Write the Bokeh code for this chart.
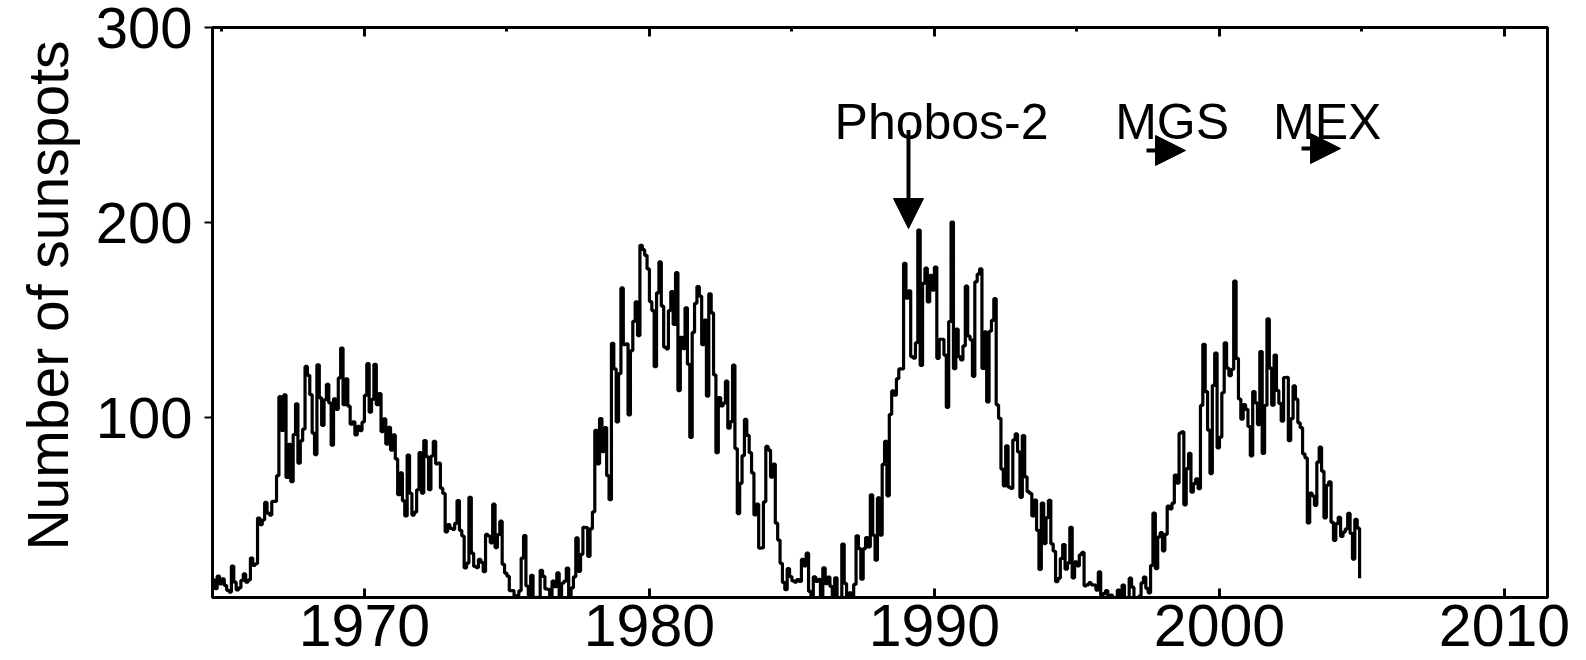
import numpy as np
from bokeh.plotting import figure
from bokeh.models import Range1d, LinearAxis, FixedTicker, Label, Arrow, NormalHead, Title
from bokeh.embed import file_html
from bokeh.resources import INLINE

# Monthly mean sunspot number, starting September 1964 (one value per month)
first_month = 1964 + 8 / 12

ssn_1964_1969 = [
    17.0, 12.5, 19.0, 15.0,
    17.5, 14.2, 11.7, 10.8, 24.1, 15.9, 11.9, 12.9, 16.8, 20.1, 15.8, 17.0,
    28.2, 24.4, 25.3, 48.7, 45.3, 47.7, 56.7, 51.2, 50.2, 57.2, 57.2, 70.4,
    110.9, 93.6, 111.8, 69.5, 86.5, 67.3, 91.5, 107.2, 76.8, 88.2, 94.3, 126.4,
    121.8, 111.9, 92.2, 81.2, 127.2, 110.3, 96.1, 109.3, 117.2, 107.7, 86.0, 109.8,
    104.4, 120.5, 135.8, 106.8, 120.0, 106.0, 96.8, 98.0, 91.3, 95.7, 93.5, 97.9,
]
ssn_1970s = [
    111.5, 127.8, 102.9, 109.5, 127.5, 106.8, 112.5, 93.0, 99.5, 86.6, 95.2, 83.5,
    91.3, 79.0, 60.7, 71.8, 57.5, 49.8, 81.0, 61.4, 50.2, 51.7, 63.2, 82.2,
    61.5, 88.4, 80.1, 63.2, 80.5, 88.0, 76.5, 76.8, 64.0, 61.3, 41.6, 45.3,
    43.4, 42.9, 46.0, 57.7, 42.4, 39.5, 23.1, 25.6, 59.3, 30.7, 23.9, 23.3,
    27.6, 26.0, 21.3, 40.3, 39.5, 36.0, 55.8, 33.6, 40.2, 47.1, 25.0, 20.5,
    18.9, 11.5, 11.5, 5.1, 9.0, 11.4, 28.2, 39.7, 13.9, 9.1, 19.4, 7.8,
    8.1, 4.3, 21.9, 18.8, 12.4, 12.2, 1.9, 16.4, 13.5, 20.6, 5.2, 15.3,
    16.4, 23.1, 8.7, 12.9, 18.6, 38.5, 21.4, 30.1, 44.0, 43.8, 29.1, 43.2,
    51.9, 93.6, 76.5, 99.7, 82.7, 95.1, 70.4, 58.1, 138.2, 125.1, 97.9, 122.7,
    166.6, 137.5, 138.0, 101.5, 134.4, 149.5, 159.4, 142.2, 188.4, 186.2, 183.3, 176.3,
]
ssn_1980s = [
    159.6, 155.0, 126.2, 164.1, 179.9, 157.3, 136.3, 135.4, 155.0, 164.7, 147.9, 174.4,
    114.0, 141.3, 135.5, 156.4, 127.5, 90.0, 143.8, 158.7, 167.3, 162.4, 137.5, 150.1,
    111.2, 163.6, 153.8, 122.0, 82.2, 110.4, 106.1, 107.6, 118.8, 94.7, 98.1, 127.0,
    84.3, 51.0, 66.5, 80.7, 99.2, 91.1, 82.2, 71.8, 50.3, 55.8, 33.3, 33.4,
    57.0, 85.4, 83.5, 69.7, 76.4, 46.1, 37.4, 25.5, 15.7, 12.0, 22.8, 18.7,
    16.5, 15.9, 17.2, 16.2, 27.5, 24.2, 30.7, 11.1, 3.9, 18.6, 16.2, 17.3,
    2.5, 23.2, 15.1, 18.5, 13.7, 1.1, 18.1, 7.4, 3.8, 35.4, 15.2, 6.8,
    10.4, 2.4, 14.7, 39.6, 33.0, 17.4, 33.0, 38.7, 33.9, 60.6, 39.9, 27.1,
    59.0, 40.0, 76.2, 88.0, 60.1, 101.8, 113.8, 111.6, 120.1, 125.1, 125.1, 179.2,
    161.3, 165.1, 131.4, 130.6, 138.5, 196.2, 126.9, 168.9, 176.7, 159.4, 173.0, 165.5,
]
ssn_1990s = [
    177.3, 130.5, 140.3, 140.3, 132.2, 105.4, 149.4, 200.3, 125.2, 145.5, 131.4, 129.7,
    136.9, 167.5, 141.9, 140.0, 121.3, 169.7, 173.7, 176.3, 125.3, 144.1, 108.2, 144.4,
    150.0, 161.1, 106.7, 99.8, 73.8, 65.2, 85.7, 64.5, 63.9, 88.7, 91.8, 82.6,
    59.3, 91.0, 69.8, 62.2, 61.3, 49.8, 57.9, 42.4, 22.4, 56.4, 35.6, 48.9,
    57.8, 35.5, 31.7, 16.1, 17.8, 28.0, 35.1, 22.5, 25.7, 44.0, 18.0, 26.2,
    24.2, 29.9, 31.1, 14.0, 14.5, 15.6, 14.5, 14.3, 11.8, 21.1, 9.0, 10.0,
    11.5, 4.4, 9.2, 4.8, 5.5, 11.8, 8.2, 14.4, 1.6, 0.9, 17.9, 13.3,
    5.7, 7.6, 8.7, 15.5, 18.5, 12.7, 10.4, 24.4, 51.3, 22.8, 39.0, 41.2,
    31.9, 40.3, 54.8, 53.4, 56.3, 70.7, 66.6, 92.2, 92.9, 55.5, 74.0, 81.9,
    62.0, 66.3, 68.8, 63.7, 106.4, 137.7, 113.5, 93.7, 71.5, 116.7, 133.2, 84.6,
]
ssn_2000s = [
    90.1, 112.9, 138.5, 125.5, 121.6, 124.9, 170.1, 130.5, 109.7, 99.4, 106.8, 104.4,
    95.6, 80.6, 113.5, 107.7, 96.6, 134.0, 81.8, 106.4, 150.7, 125.5, 106.5, 132.2,
    114.1, 107.4, 98.4, 120.7, 120.8, 88.3, 99.6, 116.4, 109.6, 97.5, 95.0, 81.6,
    79.5, 46.2, 61.5, 60.0, 55.2, 77.4, 85.0, 72.7, 48.8, 65.5, 67.3, 46.5,
    37.3, 45.8, 49.1, 39.3, 41.5, 43.2, 51.1, 40.9, 27.7, 48.0, 43.5, 17.9,
]

year_ticks = [1970, 1980, 1990, 2000, 2010]
half_decade_ticks = [1965, 1975, 1985, 1995, 2005]
count_ticks = [100, 200, 300]

ssn = np.array(ssn_1964_1969 + ssn_1970s + ssn_1980s + ssn_1990s + ssn_2000s)
t = first_month + np.arange(len(ssn)) / 12.0

FONT = "Liberation Sans"

p = figure(
    width=1586, height=660,
    output_backend="svg", toolbar_location=None,
    x_range=Range1d(1964.67, 2011.51), y_range=Range1d(8, 300),
    min_border_left=212, min_border_right=39,
    min_border_top=27, min_border_bottom=63,
    background_fill_color="white", border_fill_color="white",
)
p.grid.visible = False
p.outline_line_color = "black"
p.outline_line_width = 3
p.outline_line_alpha = 1.0

# bottom axis: decade ticks pointing inward
xa = p.xaxis[0]
xa.ticker = FixedTicker(ticks=year_ticks)
xa.axis_line_color = None
xa.major_tick_in = 9
xa.major_tick_out = 0
xa.major_tick_line_width = 3
xa.minor_tick_line_color = None
xa.major_label_standoff = 7
xa.major_label_text_font = FONT
xa.major_label_text_font_size = "59px"
xa.major_label_text_color = "black"

# left axis: outward ticks
ya = p.yaxis[0]
ya.ticker = FixedTicker(ticks=count_ticks)
ya.axis_line_color = None
ya.major_tick_in = 0
ya.major_tick_out = 8
ya.major_tick_line_width = 2
ya.minor_tick_line_color = None
ya.major_label_standoff = 12
ya.major_label_text_font = FONT
ya.major_label_text_font_size = "58px"
ya.major_label_text_color = "black"

# y-axis title, anchored toward the top of the frame
p.add_layout(Title(text="Number of sunspots", align="right", offset=13, standoff=25,
                   text_font=FONT, text_font_size="57px", text_font_style="normal",
                   text_color="black"), "left")

# top axis: tick marks only
top = LinearAxis(
    ticker=FixedTicker(ticks=year_ticks, minor_ticks=half_decade_ticks),
    axis_line_color=None,
    major_tick_in=9, major_tick_out=0, major_tick_line_width=3,
    minor_tick_in=4, minor_tick_out=0, minor_tick_line_width=3,
    major_label_overrides={yr: "" for yr in year_ticks},
    major_label_text_font_size="1px", major_label_standoff=0,
)
p.add_layout(top, "above")

p.step(t, ssn, mode="after", line_color="black", line_width=3.2)

# spacecraft annotations
label_style = dict(text_font=FONT, text_font_size="50px", text_color="black",
                   text_align="center", text_baseline="alphabetic")
p.add_layout(Label(x=1990.25, y=251.5, text="Phobos-2", **label_style))
p.add_layout(Label(x=1998.34, y=251.5, text="MGS", **label_style))
p.add_layout(Label(x=2003.78, y=251.5, text="MEX", **label_style))

def head(size):
    return NormalHead(size=size, fill_color="black", line_color="black", line_width=1)

p.add_layout(Arrow(x_start=1989.09, y_start=247.5, x_end=1989.09, y_end=197.0,
                   line_width=4, line_color="black", end=head(30)))
p.add_layout(Arrow(x_start=1997.44, y_start=237.0, x_end=1998.81, y_end=237.0,
                   line_width=4, line_color="black", end=head(30)))
p.add_layout(Arrow(x_start=2002.88, y_start=238.0, x_end=2004.25, y_end=238.0,
                   line_width=4, line_color="black", end=head(30)))

open("out.html", "w").write(file_html(p, INLINE))
